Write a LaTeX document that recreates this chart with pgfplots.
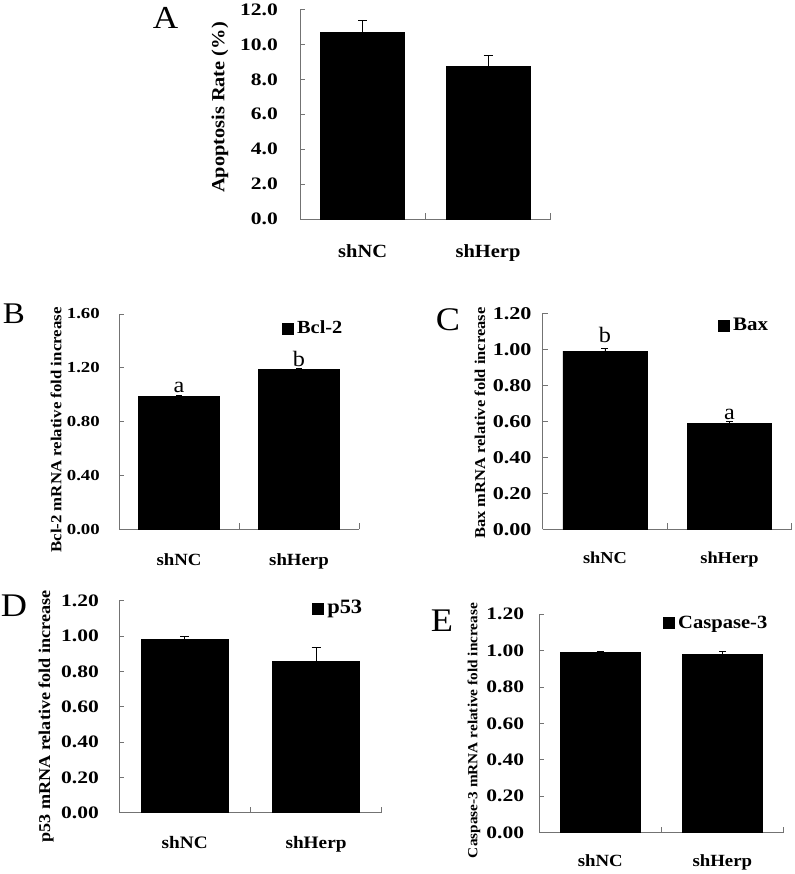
\documentclass[border=0pt]{standalone}
\usepackage{pgfplots}
\pgfplotsset{compat=1.18}
\usepackage{fontspec}
\setmainfont{Liberation Serif}
\newfontfamily\tk{Liberation Serif}[FakeStretch=1.23]
\newfontfamily\lab{Liberation Serif}[FakeStretch=1.1]
\newcommand\fs[1]{\fontsize{#1}{#1}\selectfont}
\definecolor{axgray}{RGB}{115,115,115}

\pgfplotsset{
  panel/.style={
    scale only axis,
    anchor=south west,
    axis x line*=bottom,
    axis y line*=left,
    axis line style={axgray, line width=0.9pt},
    ybar,
    xmin=-0.5, xmax=1.5,
    ymin=0,
    xtick={0,1},
    xticklabels={shNC,shHerp},
    major x tick style={draw=none},
    minor xtick={0.5,1.5},
    minor x tick style={axgray, line width=0.9pt},
    minor tick length=6pt,
    major tick length=5pt,
    tick align=inside,
    ytick style={axgray, line width=0.9pt},
    xticklabel style={anchor=base, inner sep=0pt},
    yticklabel style={anchor=east, inner sep=0pt},
    /pgf/number format/fixed,
    /pgf/number format/fixed zerofill,
    /pgf/number format/assume math mode=true,
    clip=false,
    legend style={draw=none, fill=none, anchor=west, inner sep=0pt,
      nodes={inner sep=1.5pt},
      /tikz/every odd column/.append style={column sep=2pt}},
    legend image code/.code={\fill[black] (0pt,-6pt) rectangle (11pt,5pt);},
  },
  bars/.style={fill=black, draw=black, line width=0.5pt,
    error bars/.cd, y dir=plus, y explicit,
    error bar style={black, line width=0.9pt},
    error mark options={black, line width=0.9pt, mark size=#1, rotate=90}},
  bars/.default=4.5pt,
}

\begin{document}
\begin{tikzpicture}
\useasboundingbox (0pt,0pt) rectangle (794pt,874pt);

% ---------- A ----------
\begin{axis}[panel, at={(300pt,655pt)}, width=250.7pt, height=209.5pt,
  bar width=0.67, ymax=12, ytick={0,2,...,12},
  /pgf/number format/precision=1,
  yticklabel style={font=\tk\bfseries\fs{17.5}, xshift=-22pt},
  xticklabel style={font=\lab\bfseries\fs{18.6}, yshift=-39pt},
  ylabel={Apoptosis Rate (\%)},
  ylabel style={at={(axis description cs:-0.319,0.532)}, anchor=center, font=\lab\bfseries\fs{18.5}},
]
\addplot[bars=4.5pt] coordinates {(0,10.70) +- (0,0.65) (1,8.72) +- (0,0.63)};
\end{axis}
\node[font=\lab\fs{32}] at (165.5pt,856.5pt) {A};

% ---------- B ----------
\begin{axis}[panel, at={(119pt,344.7pt)}, width=240pt, height=215.3pt,
  bar width=0.675, ymax=1.6, ytick={0,0.4,0.8,1.2,1.6},
  /pgf/number format/precision=2,
  yticklabel style={font=\tk\bfseries\fs{15.3}, xshift=-19pt},
  xticklabel style={font=\lab\bfseries\fs{17.1}, yshift=-36.4pt},
  ylabel={Bcl-2 mRNA relative fold increase},
  ylabel style={at={(axis description cs:-0.2625,0.461)}, anchor=center, font=\lab\bfseries\fs{15.3}},
  legend style={at={(axis description cs:0.679,0.935)}, font=\lab\bfseries\fs{18.5}},
]
\addplot[bars=3pt] coordinates {(0,0.985) +- (0,0.01) (1,1.19) +- (0,0.004)};
\addlegendentry{Bcl-2}
\node[anchor=base, font=\lab\fs{22}] at (axis cs:0,1.02) {a};
\node[anchor=base, font=\lab\fs{22}] at (axis cs:1,1.21) {b};
\end{axis}
\node[font=\lab\fs{30}] at (14pt,560pt) {B};

% ---------- C ----------
\begin{axis}[panel, at={(542.7pt,344.7pt)}, width=249pt, height=216pt,
  bar width=0.675, ymax=1.2, ytick={0,0.2,...,1.2},
  /pgf/number format/precision=2,
  yticklabel style={font=\tk\bfseries\fs{18}, xshift=-11pt},
  xticklabel style={font=\lab\bfseries\fs{16.7}, yshift=-34pt},
  ylabel={Bax mRNA relative fold increase},
  ylabel style={at={(axis description cs:-0.252,0.492)}, anchor=center, font=\lab\bfseries\fs{15}},
  legend style={at={(axis description cs:0.704,0.946)}, font=\lab\bfseries\fs{19.1}},
]
\addplot[bars=3.5pt] coordinates {(0,0.99) +- (0,0.015) (1,0.59) +- (0,0.01)};
\addlegendentry{Bax}
\node[anchor=base, font=\lab\fs{22}] at (axis cs:0,1.035) {b};
\node[anchor=base, font=\lab\fs{22}] at (axis cs:1,0.612) {a};
\end{axis}
\node[font=\lab\fs{33}] at (448pt,554pt) {C};

% ---------- D ----------
\begin{axis}[panel, at={(119pt,61.3pt)}, width=262.7pt, height=212pt,
  bar width=0.663, ymax=1.2, ytick={0,0.2,...,1.2},
  /pgf/number format/precision=2,
  yticklabel style={font=\tk\bfseries\fs{17.5}, xshift=-20pt},
  xticklabel style={font=\lab\bfseries\fs{17.5}, yshift=-35.6pt},
  ylabel={p53 mRNA relative fold increase},
  ylabel style={at={(axis description cs:-0.278,0.454)}, anchor=center, font=\lab\bfseries\fs{16.5}},
  legend style={at={(axis description cs:0.735,0.966)}, font=\lab\bfseries\fs{20.4}},
]
\addplot[bars=4.5pt] coordinates {(0,0.98) +- (0,0.02) (1,0.855) +- (0,0.08)};
\addlegendentry{p53}
\end{axis}
\node[font=\lab\fs{33}] at (14pt,268pt) {D};

% ---------- E ----------
\begin{axis}[panel, at={(539.3pt,41.3pt)}, width=244pt, height=218.4pt,
  bar width=0.66, ymax=1.2, ytick={0,0.2,...,1.2},
  /pgf/number format/precision=2,
  yticklabel style={font=\tk\bfseries\fs{17.5}, xshift=-15pt},
  xticklabel style={font=\lab\bfseries\fs{17.1}, yshift=-34pt},
  ylabel={Caspase-3 mRNA relative fold increase},
  ylabel style={at={(axis description cs:-0.268,0.468)}, anchor=center, font=\lab\bfseries\fs{13.9}},
  legend style={at={(axis description cs:0.507,0.962)}, font=\lab\bfseries\fs{18.7}},
]
\addplot[bars=3.5pt] coordinates {(0,0.99) +- (0,0.007) (1,0.98) +- (0,0.015)};
\addlegendentry{Caspase-3}
\end{axis}
\node[font=\lab\fs{33}] at (442pt,253pt) {E};
\end{tikzpicture}
\end{document}
